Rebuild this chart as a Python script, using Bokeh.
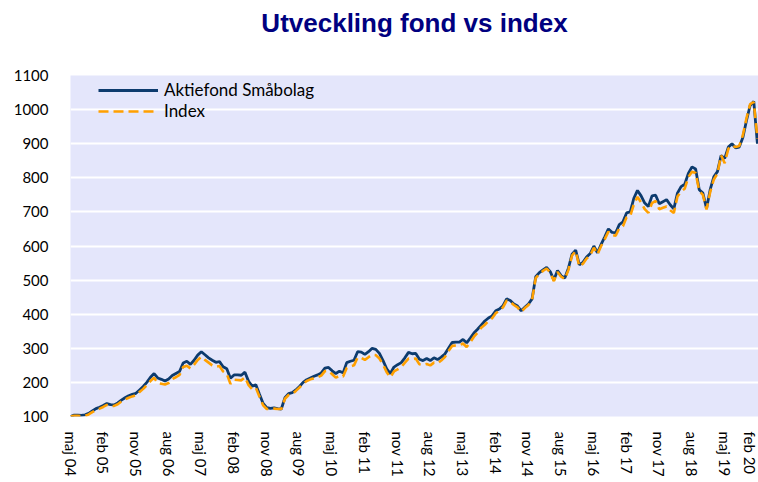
from bokeh.plotting import figure
from bokeh.models import (ColumnDataSource, FixedTicker, Range1d, Legend,
                          LegendItem, LinearAxis)
from bokeh.embed import file_html
from bokeh.resources import INLINE

# Monthly values, maj 2004 = 100
fund = [100, 104, 104, 103, 105, 109, 116, 123, 127, 132,
        138, 135, 134, 140, 148, 155, 161, 165, 168, 178,
        188, 200, 215, 226, 213, 209, 204, 210, 220, 226,
        232, 257, 262, 253, 265, 280, 290, 281, 272, 265,
        259, 261, 246, 240, 212, 222, 222, 221, 230, 203,
        189, 193, 165, 138, 126, 124, 125, 123, 122, 155,
        167, 170, 178, 188, 200, 208, 213, 218, 222, 228,
        242, 244, 234, 226, 233, 228, 258, 262, 265, 290,
        289, 282, 290, 300, 297, 285, 264, 240, 226, 245,
        252, 258, 272, 288, 284, 285, 268, 264, 270, 264,
        272, 267, 274, 283, 300, 317, 318, 318, 326, 316,
        330, 345, 356, 368, 380, 389, 395, 410, 415, 425,
        445, 440, 430, 424, 410, 420, 430, 445, 510, 522,
        530, 537, 525, 500, 528, 513, 506, 535, 576, 588,
        545, 552, 568, 578, 600, 580, 605, 627, 650, 640,
        639, 663, 671, 697, 700, 740, 763, 747, 726, 716,
        747, 749, 724, 730, 736, 721, 709, 755, 774, 781,
        813, 832, 826, 765, 755, 710, 765, 803, 818, 865,
        857, 890, 900, 888, 890, 918, 968, 1012, 1024, 900]

index = [100, 102, 102, 101, 102, 106, 113, 119, 123, 128,
         134, 131, 131, 136, 144, 150, 155, 159, 162, 172,
         181, 192, 204, 214, 198, 196, 194, 198, 210, 215,
         222, 245, 249, 241, 252, 266, 275, 266, 258, 250,
         246, 248, 232, 225, 196, 208, 207, 206, 215, 192,
         180, 184, 158, 133, 122, 122, 123, 122, 122, 152,
         163, 166, 175, 185, 196, 204, 209, 212, 215, 220,
         233, 234, 224, 214, 219, 217, 242, 247, 250, 273,
         272, 266, 274, 281, 280, 270, 252, 230, 215, 232,
         238, 245, 258, 270, 268, 270, 253, 251, 254, 250,
         258, 256, 264, 274, 292, 307, 308, 309, 314, 304,
         318, 334, 346, 360, 369, 380, 388, 403, 410, 420,
         440, 436, 427, 420, 407, 418, 427, 442, 506, 518,
         527, 534, 522, 497, 524, 510, 503, 530, 572, 585,
         540, 548, 563, 573, 595, 576, 600, 620, 642, 632,
         630, 652, 658, 684, 688, 722, 744, 728, 708, 697,
         726, 732, 708, 712, 716, 705, 697, 745, 760, 768,
         802, 818, 814, 762, 750, 707, 758, 795, 812, 866,
         843, 885, 895, 890, 893, 925, 975, 1016, 1022, 915]

tick_labels = ["maj 04", "feb 05", "nov 05", "aug 06", "maj 07", "feb 08",
               "nov 08", "aug 09", "maj 10", "feb 11", "nov 11", "aug 12",
               "maj 13", "feb 14", "nov 14", "aug 15", "maj 16", "feb 17",
               "nov 17", "aug 18", "maj 19", "feb 20"]
tick_step = 9
y_ticks = [100, 200, 300, 400, 500, 600, 700, 800, 900, 1000, 1100]
title_text = "Utveckling fond vs index"

months = list(range(len(fund)))
src = ColumnDataSource(dict(m=months, fund=fund, index=index))

p = figure(width=758, height=480, output_backend="svg", toolbar_location=None,
           title=title_text,
           x_range=Range1d(0, 189.3), y_range=Range1d(100, 1100),
           min_border_left=70, min_border_right=0, min_border_top=75,
           min_border_bottom=61)

p.title.align = "center"
p.title.vertical_align = "bottom"
p.title.standoff = 0
p.title.text_font = "Liberation Sans"
p.title.text_font_style = "bold"
p.title.text_font_size = "26px"
p.title.text_color = "#000080"

p.background_fill_color = "#E4E6FB"
p.border_fill_color = "white"
p.outline_line_color = None

p.xgrid.grid_line_color = None
p.ygrid.grid_line_color = "white"
p.ygrid.grid_line_width = 2

xax = p.below[0]
yax = p.left[0]
yax.ticker = FixedTicker(ticks=y_ticks)
xax.ticker = FixedTicker(ticks=[i * tick_step for i in range(len(tick_labels))])
xax.major_label_overrides = {i * tick_step: t for i, t in enumerate(tick_labels)}
xax.major_label_orientation = "vertical"

for ax in (xax, yax):
    ax.axis_line_color = None
    ax.major_tick_line_color = None
    ax.minor_tick_line_color = None
    ax.major_label_text_font = "Lato"
    ax.major_label_text_font_size = "15px"
    ax.major_label_text_color = "#000000"
yax.major_label_standoff = 16
xax.major_label_standoff = 9

# invisible spacer between title and plot area (one hidden tick, blank label)
spacer = LinearAxis(ticker=FixedTicker(ticks=[90]), major_tick_out=38,
                    major_tick_in=0, major_label_standoff=0,
                    major_label_overrides={90: ""},
                    major_label_text_font_size="1px",
                    axis_line_color=None, major_tick_line_color=None,
                    minor_tick_line_color=None)
p.add_layout(spacer, "above")

r1 = p.line("m", "fund", source=src, line_color="#0D3B6E", line_width=2.8)
r2 = p.line("m", "index", source=src, line_color="#FFA000", line_width=2.6,
            line_dash="10 5")

legend = Legend(items=[LegendItem(label="Aktiefond Småbolag", renderers=[r1]),
                       LegendItem(label="Index", renderers=[r2])],
                location=(28, 295), orientation="vertical")
legend.background_fill_alpha = 0
legend.border_line_color = None
legend.padding = 0
legend.margin = 0
legend.spacing = 0
legend.glyph_width = 60
legend.glyph_height = 20
legend.label_height = 20
legend.label_standoff = 6
legend.label_text_font = "Lato"
legend.label_text_font_size = "17px"
legend.label_text_color = "#000000"
p.add_layout(legend)

open("out.html", "w").write(file_html(p, INLINE))
